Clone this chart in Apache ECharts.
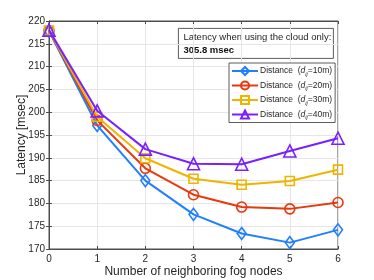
<!DOCTYPE html>
<html><head><meta charset="utf-8">
<script src="https://cdn.jsdelivr.net/npm/echarts@6/dist/echarts.min.js"></script>
<style>html,body{margin:0;padding:0;background:#fff}#c{width:374px;height:280px}</style>
</head><body><div id="c"></div>
<script>
const categories = [0, 1, 2, 3, 4, 5, 6];
const d10 = [217.8, 197.1, 185.0, 177.6, 173.4, 171.4, 174.2];
const d20 = [217.9, 198.2, 187.7, 181.9, 179.2, 178.8, 180.2];
const d30 = [217.9, 199.0, 189.9, 185.4, 184.1, 184.9, 187.4];
const d40 = [218.0, 200.3, 191.9, 188.7, 188.6, 191.5, 194.3];
const yTicks = [170, 175, 180, 185, 190, 195, 200, 205, 210, 215, 220];
const names = ['10m', '20m', '30m', '40m'];
const colors = ['#1f7fff', '#e8380d', '#f0b400', '#7a1fff'];
const symbols = ['diamond', 'circle', 'rect', 'triangle'];
const sizes = [[9, 12], 10, 9, 12];
const allData = [d10, d20, d30, d40];

const chart = echarts.init(document.getElementById('c'));
const axisCol = '#4d4d4d';
const FF = 'Liberation Sans, Arial';
const series = allData.map((d, i) => ({
  name: names[i],
  type: 'line',
  data: d.map((v, j) => [categories[j], v]),
  symbol: symbols[i],
  symbolSize: sizes[i],
  showAllSymbol: true,
  lineStyle: { color: colors[i], width: 2 },
  itemStyle: { color: 'rgba(255,255,255,0)', borderColor: colors[i], borderWidth: 1.6 },
  emphasis: { disabled: true },
  z: 2 + i
}));
chart.setOption({
  animation: false,
  grid: { left: 49, right: 36, top: 21, bottom: 31, outerBoundsMode: 'none', containLabel: false, show: true, borderColor: axisCol, borderWidth: 1, backgroundColor: '#fff' },
  xAxis: [{
    type: 'value', min: 0, max: 6, interval: 1,
    name: 'Number of neighboring fog nodes', nameLocation: 'middle', nameGap: 17, nameMoveOverlap: false,
    nameTextStyle: { color: '#262626', fontSize: 12, fontFamily: FF },
    axisLine: { show: true, lineStyle: { color: axisCol } },
    axisTick: { show: true, inside: true, length: 3, lineStyle: { color: axisCol } },
    axisLabel: { color: '#262626', fontSize: 10, margin: 5, fontFamily: FF },
    splitLine: { show: true, lineStyle: { color: '#e6e6e6', width: 1 } }
  }, {
    type: 'value', min: 0, max: 6, interval: 1, position: 'top',
    axisLine: { show: true, lineStyle: { color: axisCol } },
    axisTick: { show: true, inside: true, length: 3, lineStyle: { color: axisCol } },
    axisLabel: { show: false }, splitLine: { show: false }
  }],
  yAxis: [{
    type: 'value', min: yTicks[0], max: yTicks[yTicks.length - 1], interval: 5,
    name: 'Latency [msec]', nameLocation: 'middle', nameGap: 21, nameMoveOverlap: false,
    nameTextStyle: { color: '#262626', fontSize: 12, fontFamily: FF },
    axisLine: { show: true, lineStyle: { color: axisCol } },
    axisTick: { show: true, inside: true, length: 3, lineStyle: { color: axisCol } },
    axisLabel: { color: '#262626', fontSize: 10, margin: 4, fontFamily: FF },
    splitLine: { show: true, lineStyle: { color: '#e6e6e6', width: 1 } }
  }, {
    type: 'value', min: yTicks[0], max: yTicks[yTicks.length - 1], interval: 5, position: 'right',
    axisLine: { show: true, lineStyle: { color: axisCol } },
    axisTick: { show: true, inside: true, length: 3, lineStyle: { color: axisCol } },
    axisLabel: { show: false }, splitLine: { show: false }
  }],
  legend: {
    orient: 'vertical', left: 229, top: 63,
    padding: [3, 3, 2, 2], itemGap: 3.5, itemWidth: 26, itemHeight: 10,
    backgroundColor: '#fff', borderColor: '#333', borderWidth: 0.8,
    data: names,
    formatter: n => 'Distance  ({it|d}{sub|ij}=' + n + ')',
    textStyle: {
      color: '#262626', fontSize: 8.5, fontFamily: FF, padding: [0, 0, 0, -3],
      rich: {
        it: { fontStyle: 'italic', fontSize: 8.5, fontFamily: FF, color: '#262626' },
        sub: { fontStyle: 'italic', fontSize: 5.5, verticalAlign: 'bottom', padding: [6, 0, 0, 0], fontFamily: FF, color: '#262626' }
      }
    }
  },
  graphic: [{
    type: 'group', left: 178, top: 28, z: 100,
    children: [
      { type: 'rect', shape: { x: 0, y: 0, width: 155, height: 30 }, style: { fill: '#fff', stroke: '#333', lineWidth: 0.8 } },
      { type: 'text', x: 5, y: 4, style: { text: 'Latency when using the cloud only:', fill: '#262626', font: '9.5px Liberation Sans, Arial' } },
      { type: 'text', x: 5, y: 17, style: { text: '305.8 msec', fill: '#111', font: 'bold 9.5px Liberation Sans, Arial' } }
    ]
  }],
  series: series
});
</script></body></html>
